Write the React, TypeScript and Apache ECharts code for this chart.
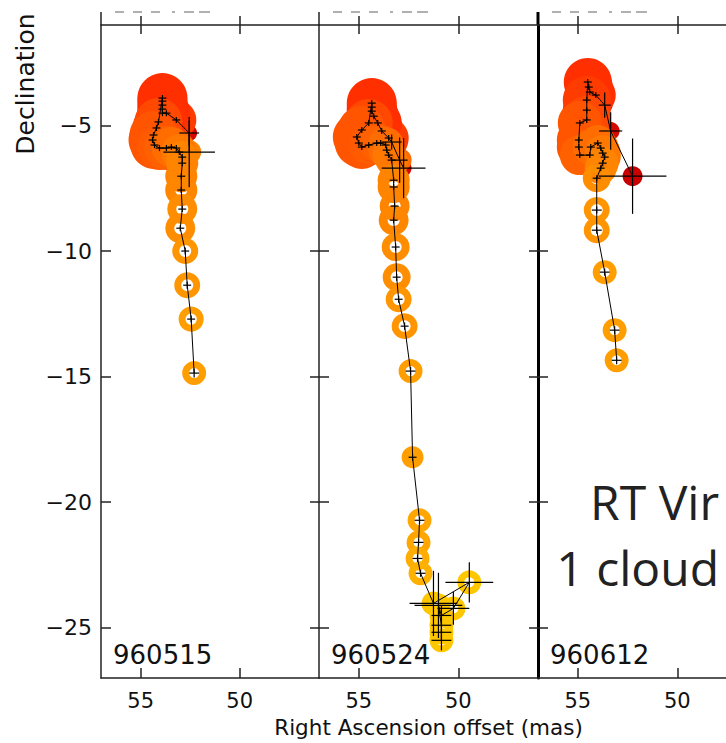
import React, { useEffect, useRef } from "react";
import * as echarts from "echarts";

const epochLabels = ["960515", "960524", "960612"];
const raTicks = [55, 50];
const decTicks = [-25, -20, -15, -10, -5];
const raRange = [46, 57];
const decRange = [-27, -1];
const starName = "RT Vir";
const modelName = "1 cloud";
const xTitle = "Right Ascension offset (mas)";
const yTitle = "Declination";

// columns: RA offset (mas), Dec offset (mas), velocity index, flux, RA error, Dec error
const spots960515 = [
  [52.55, -6.06, 6, 1.0, 1.3, 1.4],
  [52.55, -5.3, 0.5, 0.44, 0.5, 0.5],
  [53.2, -4.78, 3, 2.78, 0.2, 0.12],
  [53.7, -4.51, 2.5, 4.0, 0.2, 0.12],
  [53.9, -4.51, 2.5, 4.34, 0.2, 0.12],
  [53.9, -4.35, 2.5, 4.34, 0.2, 0.12],
  [53.9, -4.19, 2.5, 4.34, 0.2, 0.12],
  [53.9, -4.03, 2.5, 4.34, 0.2, 0.12],
  [53.9, -3.91, 2.5, 4.34, 0.2, 0.12],
  [54.1, -4.86, 3.5, 4.0, 0.2, 0.12],
  [54.2, -5.1, 3.5, 4.0, 0.2, 0.12],
  [54.35, -5.38, 4, 4.0, 0.2, 0.12],
  [54.4, -5.58, 4, 4.0, 0.2, 0.12],
  [54.3, -5.78, 4, 4.0, 0.2, 0.12],
  [54.05, -5.9, 4.2, 3.36, 0.2, 0.12],
  [53.7, -5.9, 4.5, 3.36, 0.2, 0.12],
  [53.45, -5.86, 5, 2.78, 0.2, 0.12],
  [53.2, -5.9, 5, 2.25, 0.2, 0.12],
  [53.05, -6.06, 5.5, 2.25, 0.2, 0.12],
  [52.9, -6.26, 6, 1.78, 0.2, 0.12],
  [52.9, -6.5, 6, 1.78, 0.2, 0.12],
  [52.95, -7.02, 6, 1.78, 0.2, 0.12],
  [52.95, -7.57, 6.2, 1.78, 0.2, 0.12],
  [52.9, -8.33, 6.5, 1.56, 0.2, 0.12],
  [53.0, -9.09, 6.5, 1.56, 0.2, 0.12],
  [52.75, -10.0, 7, 1.17, 0.2, 0.14],
  [52.65, -11.36, 7, 1.17, 0.2, 0.14],
  [52.45, -12.71, 7.5, 1.1, 0.2, 0.14],
  [52.3, -14.86, 7.5, 1.0, 0.25, 0.18],
];

const spots960524 = [
  [52.75, -6.7, 0.5, 0.44, 1.1, 1.2],
  [52.95, -6.38, 5, 1.0, 0.4, 0.9],
  [53.35, -5.66, 4, 1.78, 0.5, 0.3],
  [53.5, -5.5, 3, 2.78, 0.2, 0.12],
  [53.85, -5.22, 3, 3.36, 0.2, 0.12],
  [54.05, -4.9, 2.5, 4.0, 0.2, 0.12],
  [54.25, -4.63, 2.5, 4.34, 0.2, 0.12],
  [54.35, -4.43, 2.5, 4.34, 0.2, 0.12],
  [54.35, -4.27, 2.5, 4.34, 0.2, 0.12],
  [54.35, -4.11, 2.5, 4.34, 0.2, 0.12],
  [54.5, -4.9, 3.5, 4.0, 0.2, 0.12],
  [54.85, -5.18, 4, 4.0, 0.2, 0.12],
  [55.1, -5.46, 4, 4.0, 0.2, 0.12],
  [55.0, -5.7, 4, 4.0, 0.2, 0.12],
  [54.85, -5.86, 4, 3.36, 0.2, 0.12],
  [54.5, -5.78, 4.2, 2.78, 0.2, 0.12],
  [54.1, -5.7, 4.5, 2.25, 0.2, 0.12],
  [53.9, -5.7, 4.5, 2.25, 0.2, 0.12],
  [53.65, -5.78, 5, 2.25, 0.2, 0.12],
  [53.6, -5.98, 5, 2.25, 0.2, 0.12],
  [53.5, -6.18, 5.5, 1.78, 0.2, 0.12],
  [53.35, -6.38, 5.5, 1.78, 0.2, 0.12],
  [53.25, -7.18, 6, 1.78, 0.2, 0.12],
  [53.25, -7.45, 6, 1.78, 0.2, 0.12],
  [53.2, -8.21, 6, 1.56, 0.2, 0.12],
  [53.25, -8.77, 6.2, 1.56, 0.2, 0.12],
  [53.15, -9.84, 6.5, 1.36, 0.2, 0.14],
  [53.1, -11.04, 6.5, 1.36, 0.2, 0.14],
  [53.0, -11.92, 7, 1.17, 0.2, 0.14],
  [52.7, -12.99, 7, 1.17, 0.2, 0.14],
  [52.4, -14.78, 7.5, 1.0, 0.25, 0.16],
  [52.3, -18.21, 7.5, 0.84, 0.2, 0.14],
  [51.95, -20.72, 8, 1.0, 0.25, 0.14],
  [52.0, -21.6, 8, 1.0, 0.25, 0.14],
  [52.05, -22.24, 8.3, 1.0, 0.25, 0.14],
  [51.9, -22.83, 8.5, 1.0, 0.25, 0.14],
  [51.25, -24.03, 9.5, 1.0, 1.2, 1.3],
  [49.45, -23.19, 9.5, 1.0, 1.2, 0.8],
  [50.25, -24.23, 9.5, 1.0, 0.8, 0.65],
  [50.85, -24.51, 9.5, 1.0, 0.5, 0.4],
  [51.0, -24.11, 9.5, 1.0, 1.2, 1.3],
  [50.85, -24.9, 9.5, 1.0, 0.5, 0.3],
  [50.85, -25.18, 9.5, 1.0, 0.5, 0.3],
  [50.85, -25.5, 9.5, 1.0, 0.5, 0.4],
];

const spots960612 = [
  [52.25, -7.02, 0, 0.69, 1.7, 1.5],
  [53.35, -5.22, 0.5, 0.56, 0.58, 0.75],
  [53.65, -4.19, 1, 0.44, 0.3, 0.5],
  [54.1, -3.79, 2.5, 2.78, 0.2, 0.12],
  [54.4, -3.67, 2.5, 4.0, 0.2, 0.12],
  [54.45, -3.47, 2.5, 4.0, 0.2, 0.12],
  [54.5, -3.27, 2.5, 4.0, 0.2, 0.12],
  [54.55, -3.99, 3, 4.0, 0.2, 0.12],
  [54.55, -4.39, 3, 4.0, 0.2, 0.12],
  [54.55, -4.78, 3.5, 4.0, 0.2, 0.12],
  [54.9, -4.9, 4, 3.36, 0.2, 0.12],
  [54.95, -5.58, 4, 3.36, 0.2, 0.12],
  [54.95, -5.86, 4, 3.36, 0.2, 0.12],
  [54.9, -6.18, 4.5, 2.78, 0.2, 0.12],
  [54.4, -6.18, 4.5, 2.25, 0.2, 0.12],
  [54.35, -5.86, 5, 2.25, 0.2, 0.12],
  [54.0, -5.7, 5, 2.25, 0.2, 0.12],
  [53.85, -5.9, 5, 2.25, 0.2, 0.12],
  [53.75, -6.1, 5.5, 2.25, 0.2, 0.12],
  [53.65, -6.26, 5.5, 1.78, 0.2, 0.12],
  [53.75, -6.5, 6, 1.78, 0.2, 0.12],
  [53.85, -6.7, 6, 1.78, 0.2, 0.12],
  [54.05, -7.1, 6.5, 1.36, 0.2, 0.12],
  [54.05, -8.37, 7, 1.17, 0.25, 0.14],
  [54.05, -9.17, 7, 1.17, 0.25, 0.14],
  [53.65, -10.84, 7.5, 1.0, 0.25, 0.14],
  [53.15, -13.15, 7.5, 1.0, 0.25, 0.16],
  [53.05, -14.35, 7.5, 1.0, 0.25, 0.16],
];

const epochs = [spots960515, spots960524, spots960612];

const FONT = "'DejaVu Sans', sans-serif";
const AXIS = "#222";
const gridLefts = [101, 319, 538];
const gridWidths = [218, 219, 219];
const GRID_TOP = 25;
const GRID_H = 653;

function ringItem(_params: any, api: any) {
  const p = api.coord([api.value(0), api.value(1)]);
  const R = 12 * Math.sqrt(api.value(3));
  const r0 = R >= 11.5 ? Math.min(6, R - 7) : 0;
  return {
    type: "ring",
    shape: { cx: p[0], cy: p[1], r: R, r0 },
    style: { fill: api.visual("color") },
  };
}

function errItem(_params: any, api: any) {
  const x = api.value(0);
  const y = api.value(1);
  const ex = api.value(4);
  const ey = api.value(5);
  const a = api.coord([x - ex, y]);
  const b = api.coord([x + ex, y]);
  const c = api.coord([x, y - ey]);
  const d = api.coord([x, y + ey]);
  const st = { stroke: "#000", lineWidth: 1.2 };
  return {
    type: "group",
    children: [
      { type: "line", shape: { x1: a[0], y1: a[1], x2: b[0], y2: b[1] }, style: st },
      { type: "line", shape: { x1: c[0], y1: c[1], x2: d[0], y2: d[1] }, style: st },
    ],
  };
}

function buildOption() {
  const grid: any[] = [];
  const xAxis: any[] = [];
  const yAxis: any[] = [];
  const series: any[] = [];
  const graphic: any[] = [];
  const ringIdx: number[] = [];

  epochs.forEach((rows, k) => {
    grid.push({
      left: gridLefts[k],
      top: GRID_TOP,
      width: gridWidths[k],
      height: GRID_H,
      outerBoundsMode: "none",
    });
    const lineW = k === 2 ? 3 : 1.5;
    const base = {
      type: "value",
      gridIndex: k,
      min: raRange[0],
      max: raRange[1],
      inverse: true,
      splitLine: { show: false },
    };
    xAxis.push({
      ...base,
      position: "bottom",
      axisLine: { show: true, onZero: false, lineStyle: { color: AXIS, width: 1.5 } },
      axisTick: { show: true, inside: true, length: 10, customValues: raTicks, lineStyle: { color: AXIS, width: 1.5 } },
      axisLabel: { show: true, customValues: raTicks, fontSize: 21, color: "#111", margin: 12, fontFamily: FONT },
      name: k === 1 ? xTitle : "",
      nameLocation: "middle",
      nameGap: 38,
      nameMoveOverlap: false,
      nameTextStyle: { fontSize: 21.5, color: "#111", fontFamily: FONT },
    });
    xAxis.push({
      ...base,
      position: "top",
      axisLine: { show: true, onZero: false, lineStyle: { color: AXIS, width: 1.5 } },
      axisTick: { show: true, inside: false, length: 9, customValues: raTicks, lineStyle: { color: AXIS, width: 1.5 } },
      axisLabel: { show: false },
    });
    xAxis.push({
      ...base,
      position: "top",
      axisLine: { show: false, onZero: false },
      axisTick: { show: true, inside: true, length: 9, customValues: raTicks, lineStyle: { color: AXIS, width: 1.5 } },
      axisLabel: { show: false },
    });
    const ybase = {
      type: "value",
      gridIndex: k,
      position: "left",
      min: decRange[0],
      max: decRange[1],
      splitLine: { show: false },
    };
    yAxis.push({
      ...ybase,
      axisLine: { show: true, onZero: false, lineStyle: { color: k === 2 ? "#000" : AXIS, width: lineW } },
      axisTick: { show: true, inside: true, length: 10, customValues: decTicks, lineStyle: { color: AXIS, width: 1.5 } },
      axisLabel: {
        show: k === 0,
        customValues: decTicks,
        fontSize: 22,
        color: "#111",
        margin: 9,
        fontFamily: FONT,
        formatter: (v: number) => String(v).replace("-", "\u2212"),
      },
    });
    yAxis.push({
      ...ybase,
      axisLine: { show: false, onZero: false },
      axisTick: { show: k > 0, inside: false, length: 9, customValues: decTicks, lineStyle: { color: AXIS, width: 1.5 } },
      axisLabel: { show: false },
    });

    const xi = 3 * k;
    const yi = 2 * k;
    ringIdx.push(series.length);
    series.push({
      type: "custom",
      xAxisIndex: xi,
      yAxisIndex: yi,
      data: rows,
      encode: { x: 0, y: 1 },
      renderItem: ringItem,
      silent: true,
      z: 2,
    });
    series.push({
      type: "line",
      xAxisIndex: xi,
      yAxisIndex: yi,
      data: rows.map((r) => [r[0], r[1]]),
      showSymbol: false,
      symbol: "none",
      lineStyle: { color: "#000", width: 1 },
      silent: true,
      z: 3,
    });
    series.push({
      type: "custom",
      xAxisIndex: xi,
      yAxisIndex: yi,
      data: rows,
      encode: { x: 0, y: 1 },
      renderItem: errItem,
      silent: true,
      z: 4,
    });

    graphic.push({
      type: "line",
      shape: { x1: gridLefts[k], y1: 12, x2: gridLefts[k], y2: GRID_TOP },
      style: { stroke: k === 2 ? "#000" : AXIS, lineWidth: lineW },
    });
    [[14, 23], [32, 41], [50, 59], [71, 74], [83, 93], [98, 109]].forEach(([a, b]) => {
      graphic.push({
        type: "line",
        shape: { x1: gridLefts[k] + a, y1: 12, x2: gridLefts[k] + b, y2: 12 },
        style: { stroke: "#b0b0b0", lineWidth: 2 },
      });
    });
    graphic.push({
      type: "text",
      x: gridLefts[k] + 12,
      y: 655,
      style: {
        text: epochLabels[k],
        fontSize: 26,
        fontFamily: FONT,
        fill: "#111",
        align: "left",
        verticalAlign: "middle",
      },
    });
  });

  graphic.push({
    type: "text",
    x: 25,
    y: 84,
    rotation: Math.PI / 2,
    style: {
      text: yTitle,
      fontSize: 25,
      fontFamily: FONT,
      fill: "#111",
      align: "center",
      verticalAlign: "middle",
    },
  });
  [starName, modelName].forEach((t, i) => {
    graphic.push({
      type: "text",
      x: 719,
      y: i === 0 ? 501 : 567,
      style: {
        text: t,
        fontSize: 48,
        fontFamily: "'Open Sans', sans-serif",
        fill: "#222",
        align: "right",
        verticalAlign: "middle",
      },
    });
  });

  return {
    animation: false,
    backgroundColor: "#fff",
    textStyle: { fontFamily: FONT },
    grid,
    xAxis,
    yAxis,
    visualMap: {
      type: "continuous",
      show: false,
      min: 0,
      max: 10,
      dimension: 2,
      seriesIndex: ringIdx,
      inRange: { color: ["#c80000", "#ff2200", "#ff5500", "#ff8400", "#ffa600", "#ffd200"] },
    },
    series,
    graphic,
  };
}

export default function App() {
  const ref = useRef<HTMLDivElement>(null);
  useEffect(() => {
    if (!ref.current) return;
    const chart = echarts.init(ref.current, undefined, { renderer: "svg" });
    chart.setOption(buildOption() as any);
    return () => chart.dispose();
  }, []);
  return (
    <div
      ref={ref}
      style={{ position: "fixed", left: 0, top: 0, width: 726, height: 743, background: "#fff" }}
    />
  );
}
